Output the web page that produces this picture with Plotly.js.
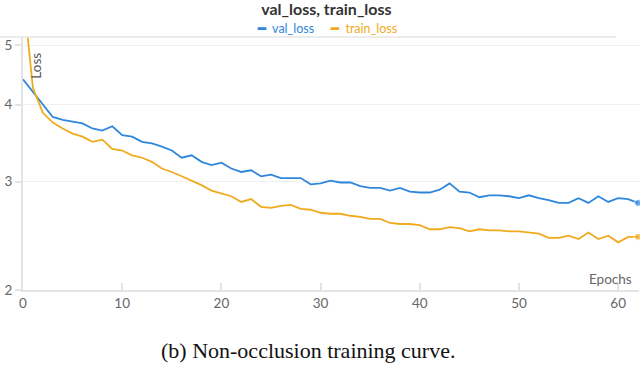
<!DOCTYPE html>
<html>
<head>
<meta charset="utf-8">
<script src="https://cdn.plot.ly/plotly-3.0.1.min.js"></script>
<style>html,body{margin:0;padding:0;background:#fff;}#chart{width:640px;height:378px;}</style>
</head>
<body>
<div id="chart"></div>
<script>
// Data
const epochs = [...Array(63).keys()];
const valLoss = [4.40,4.20,4.00,3.82,3.78,3.75,3.73,3.66,3.63,3.69,
                 3.57,3.55,3.48,3.46,3.42,3.37,3.28,3.31,3.23,3.19,
                 3.22,3.15,3.11,3.13,3.06,3.08,3.04,3.04,3.04,2.97,
                 2.98,3.01,2.99,2.99,2.95,2.93,2.93,2.90,2.93,2.89,
                 2.88,2.88,2.91,2.98,2.89,2.88,2.83,2.85,2.85,2.84,
                 2.82,2.85,2.82,2.80,2.77,2.77,2.82,2.77,2.84,2.78,
                 2.82,2.81,2.77];
const trainLoss = [6.10,4.26,3.88,3.74,3.66,3.59,3.55,3.48,3.51,3.39,
                   3.37,3.31,3.28,3.23,3.15,3.11,3.06,3.01,2.96,2.90,
                   2.87,2.84,2.78,2.81,2.73,2.72,2.74,2.75,2.71,2.70,
                   2.67,2.66,2.66,2.64,2.63,2.61,2.61,2.57,2.56,2.56,
                   2.55,2.51,2.51,2.53,2.52,2.49,2.51,2.50,2.50,2.49,
                   2.49,2.48,2.47,2.43,2.43,2.45,2.42,2.48,2.42,2.45,
                   2.39,2.44,2.44];
const yTickVals = [2,3,4,5];
const xTickVals = [0,10,20,30,40,50,60];
const seriesNames = ['val_loss','train_loss'];
const chartTitle = 'val_loss, train_loss';
const yTitle = 'Loss';
const xTitle = 'Epochs';
const caption = '(b) Non-occlusion training curve.';

const blue = '#2f87dd';
const orange = '#f0aa1e';
const lastOnly = arr => arr.map((_, i) => i === arr.length - 1 ? 7 : 0);

const traces = [
  {x: epochs, y: valLoss, name: seriesNames[0], type: 'scatter', mode: 'lines+markers',
   line: {color: blue, width: 1.8}, marker: {color: blue, size: lastOnly(valLoss)}, cliponaxis: false},
  {x: epochs, y: trainLoss, name: seriesNames[1], type: 'scatter', mode: 'lines+markers',
   line: {color: orange, width: 1.8}, marker: {color: orange, size: lastOnly(trainLoss)}, cliponaxis: false}
];

const font = 'Lato, "Noto Sans", sans-serif';
const layout = {
  width: 640, height: 378,
  margin: {l: 23, r: 1, t: 37, b: 88, pad: 0},
  paper_bgcolor: '#fff', plot_bgcolor: '#fff',
  showlegend: false,
  font: {family: font, color: '#666', size: 13},
  title: {text: chartTitle, x: 0.51, xanchor: 'center', y: 0.974, yanchor: 'middle',
          font: {family: font, size: 16, color: '#333', weight: 'bold'}},
  xaxis: {range: [0, 62.1], tickvals: xTickVals, showgrid: false, zeroline: false,
          showline: true, linecolor: '#e3e3e3', linewidth: 2,
          ticks: 'inside', ticklen: 7, tickwidth: 2, tickcolor: '#e3e3e3',
          tickfont: {family: font, size: 13.5, color: '#666'}},
  yaxis: {type: 'log', range: [Math.log10(2), 0.712], tickvals: yTickVals,
          showgrid: true, gridcolor: '#efefef', gridwidth: 1, zeroline: false,
          showline: true, linecolor: '#e3e3e3', linewidth: 2,
          ticks: 'outside', ticklen: 6, tickwidth: 2, tickcolor: '#e3e3e3',
          tickfont: {family: font, size: 13.5, color: '#666'}},
  shapes: [
    {type: 'line', xref: 'paper', yref: 'paper', x0: -0.0373, x1: 0.9627, y0: 1.0, y1: 1.0,
     line: {color: '#e6e6e6', width: 1.5}}
  ],
  annotations: [
    {text: '<span style="font-weight:bold">━</span>  ' + seriesNames[0], xref: 'paper', yref: 'paper',
     x: 0.377, y: 1.035, xanchor: 'left', yanchor: 'middle', showarrow: false,
     font: {family: font, size: 12.5, color: blue}},
    {text: '<span style="font-weight:bold">━</span>  ' + seriesNames[1], xref: 'paper', yref: 'paper',
     x: 0.495, y: 1.035, xanchor: 'left', yanchor: 'middle', showarrow: false,
     font: {family: font, size: 12.5, color: orange}},
    {text: yTitle, xref: 'paper', yref: 'paper', x: 0.022, y: 0.885, textangle: -90,
     xanchor: 'center', yanchor: 'middle', showarrow: false,
     font: {family: font, size: 13.5, color: '#555'}},
    {text: xTitle, xref: 'paper', yref: 'paper', x: 0.992, y: 0.043,
     xanchor: 'right', yanchor: 'middle', showarrow: false,
     font: {family: font, size: 13.5, color: '#666'}},
    {text: caption, xref: 'paper', yref: 'paper', x: 0.463, y: -0.24,
     xanchor: 'center', yanchor: 'middle', showarrow: false,
     font: {family: '"Liberation Serif", serif', size: 22, color: '#111'}}
  ]
};

Plotly.newPlot('chart', traces, layout, {displayModeBar: false, staticPlot: true});
</script>
</body>
</html>
